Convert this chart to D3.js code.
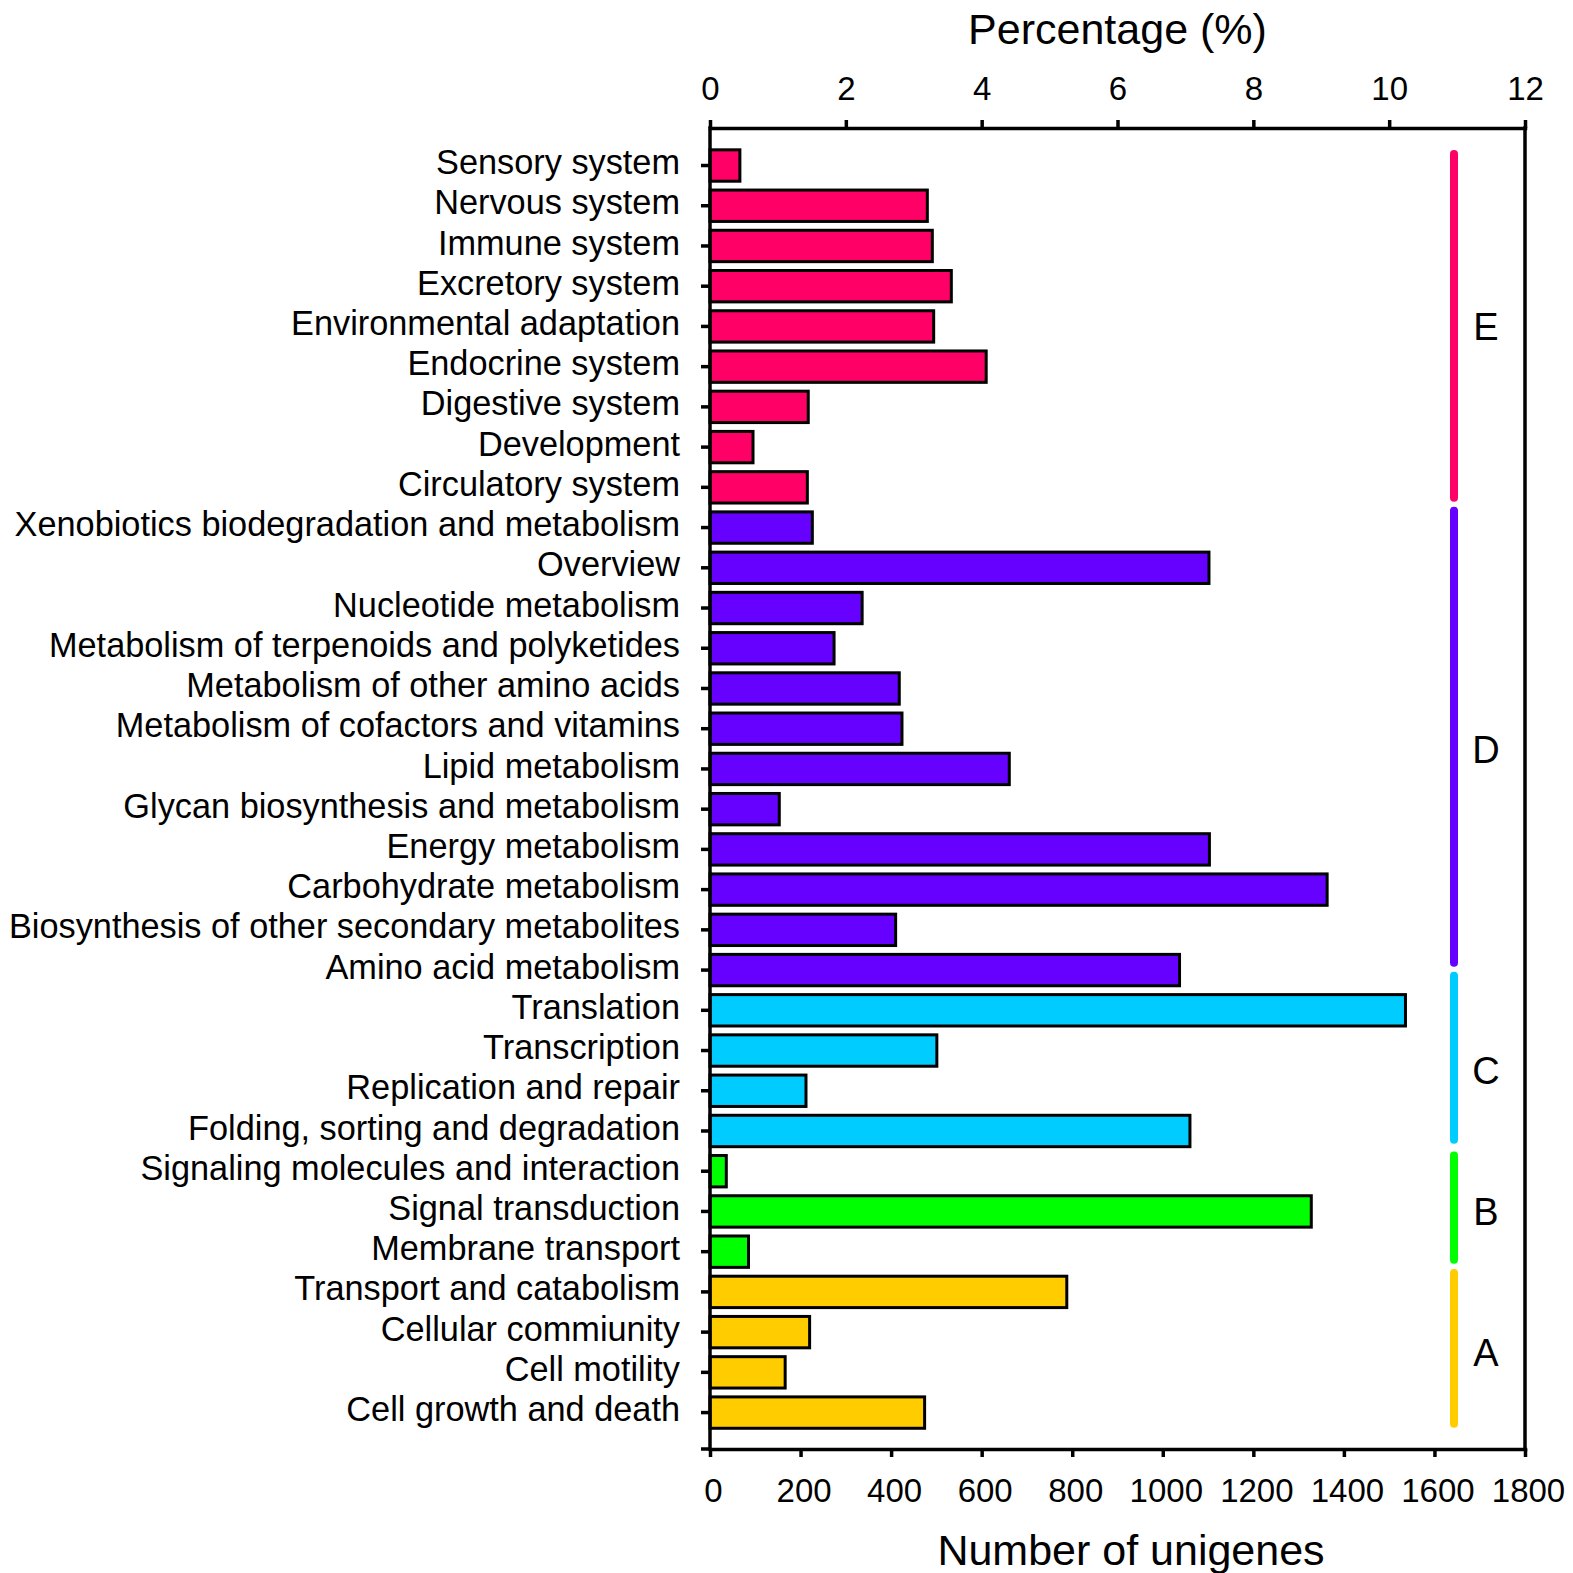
<!DOCTYPE html>
<html>
<head>
<meta charset="utf-8">
<script src="https://cdn.jsdelivr.net/npm/d3@7"></script>
<style>
  html, body { margin: 0; padding: 0; background: #fff; }
  svg { display: block; font-family: "Liberation Sans", Arial, Helvetica, sans-serif; }
</style>
</head>
<body>
<svg id="chart" width="1573" height="1573"></svg>
<script>
// KEGG pathway classes, listed top to bottom
const categories = [
  "Sensory system", "Nervous system", "Immune system", "Excretory system",
  "Environmental adaptation", "Endocrine system", "Digestive system",
  "Development", "Circulatory system",
  "Xenobiotics biodegradation and metabolism", "Overview", "Nucleotide metabolism",
  "Metabolism of terpenoids and polyketides", "Metabolism of other amino acids",
  "Metabolism of cofactors and vitamins", "Lipid metabolism",
  "Glycan biosynthesis and metabolism", "Energy metabolism",
  "Carbohydrate metabolism", "Biosynthesis of other secondary metabolites",
  "Amino acid metabolism",
  "Translation", "Transcription", "Replication and repair",
  "Folding, sorting and degradation",
  "Signaling molecules and interaction", "Signal transduction", "Membrane transport",
  "Transport and catabolism", "Cellular commiunity", "Cell motility",
  "Cell growth and death"
];

// Number of unigenes per class
const unigenes = [
  66, 480, 491, 533, 494, 610, 217, 95, 215,
  226, 1102, 336, 274, 418, 424, 661, 153, 1103, 1363, 410, 1037,
  1536, 501, 212, 1060,
  36, 1328, 85,
  788, 220, 166, 474
];

// Top-level group of each class
const groupOf = [
  "E", "E", "E", "E", "E", "E", "E", "E", "E",
  "D", "D", "D", "D", "D", "D", "D", "D", "D", "D", "D", "D",
  "C", "C", "C", "C",
  "B", "B", "B",
  "A", "A", "A", "A"
];

const groupNames = ["E", "D", "C", "B", "A"];
const groupColors = ["#FF0066", "#6600FF", "#00CCFF", "#00FF00", "#FFCC00"];
// Extent of each group bracket, in row units (row 0 = first class)
const bracketStart = [-0.385, 8.48, 20.04, 24.51, 27.43];
const bracketEnd   = [8.36, 19.92, 24.32, 27.30, 31.38];

const countTicks = [0, 200, 400, 600, 800, 1000, 1200, 1400, 1600, 1800];
const percentTicks = [0, 2, 4, 6, 8, 10, 12];

// ---- layout ----
const plotLeft = 710, plotRight = 1525, plotTop = 128, plotBottom = 1449;
const axisWidth = 3.5;

const svg = d3.select("#chart");

const x = d3.scaleLinear().domain([0, 1800]).range([plotLeft, plotRight]);
const xPct = d3.scaleLinear().domain([0, 12]).range([plotLeft, plotRight]);
const y = d3.scaleBand()
  .domain(categories)
  .range([plotTop + 17.4, plotBottom - 16.3])
  .paddingInner(0.22)
  .paddingOuter(0.11);

const rowY = r => y(categories[0]) + y.bandwidth() / 2 + r * y.step();
const colorOf = g => groupColors[groupNames.indexOf(g)];

// ---- bars ----
const rows = categories.map((c, i) => ({ name: c, value: unigenes[i], group: groupOf[i] }));

svg.append("g")
  .selectAll("rect")
  .data(rows)
  .join("rect")
  .attr("x", x(0))
  .attr("y", d => y(d.name))
  .attr("width", d => x(d.value) - x(0))
  .attr("height", y.bandwidth())
  .attr("fill", d => colorOf(d.group))
  .attr("stroke", "#000")
  .attr("stroke-width", 3);

// ---- group brackets ----
const capR = 4;
const brackets = svg.append("g");
groupNames.forEach((g, i) => {
  brackets.append("line")
    .attr("x1", 1454).attr("x2", 1454)
    .attr("y1", rowY(bracketStart[i]) + capR)
    .attr("y2", rowY(bracketEnd[i]) - capR)
    .attr("stroke", groupColors[i])
    .attr("stroke-width", 8)
    .attr("stroke-linecap", "round");
  const idx = groupOf.map((d, k) => d === g ? k : -1).filter(k => k >= 0);
  const mid = (d3.min(idx) + d3.max(idx)) / 2;
  brackets.append("text")
    .attr("x", 1486)
    .attr("y", rowY(mid))
    .attr("dy", "0.36em")
    .attr("text-anchor", "middle")
    .attr("font-size", 38)
    .attr("fill", "#000")
    .text(g);
});

// ---- axes ----
const styleAxis = sel => {
  sel.selectAll("path.domain").attr("stroke-width", axisWidth).attr("stroke-linecap", "square");
  sel.selectAll(".tick line").attr("stroke-width", axisWidth);
  sel.selectAll(".tick text").attr("font-size", 33).attr("fill", "#000");
  sel.attr("font-family", null).attr("font-size", null);
};

svg.append("g")
  .attr("transform", `translate(0,${plotBottom})`)
  .call(d3.axisBottom(x).tickValues(countTicks).tickFormat(d3.format("d"))
    .tickSize(8).tickSizeOuter(0).tickPadding(22))
  .call(styleAxis)
  .call(g => g.selectAll(".tick text").attr("dx", 3));

svg.append("g")
  .attr("transform", `translate(0,${plotTop})`)
  .call(d3.axisTop(xPct).tickValues(percentTicks).tickFormat(d3.format("d"))
    .tickSize(8).tickSizeOuter(0).tickPadding(20))
  .call(styleAxis);

const yAxis = svg.append("g")
  .attr("transform", `translate(${plotLeft},0)`)
  .call(d3.axisLeft(y).tickSize(9).tickPadding(21))
  .call(g => g.select("path.domain").remove())
  .attr("font-family", null);
yAxis.selectAll(".tick line").attr("stroke-width", axisWidth);
yAxis.selectAll(".tick text")
  .attr("font-size", 34.3)
  .attr("fill", "#000")
  .attr("dy", "0.25em");

// frame: left and right edges, plus the outer tick at the bottom-left corner
const frame = svg.append("g").attr("stroke", "#000").attr("stroke-width", axisWidth);
frame.append("line").attr("x1", plotLeft).attr("x2", plotLeft).attr("y1", plotTop).attr("y2", plotBottom)
  .attr("stroke-linecap", "square");
frame.append("line").attr("x1", plotRight).attr("x2", plotRight).attr("y1", plotTop).attr("y2", plotBottom)
  .attr("stroke-linecap", "square");
frame.append("line").attr("x1", plotLeft - 9).attr("x2", plotLeft).attr("y1", plotBottom).attr("y2", plotBottom);

// ---- axis titles ----
svg.append("text")
  .attr("x", (plotLeft + plotRight) / 2)
  .attr("y", 44)
  .attr("text-anchor", "middle")
  .attr("font-size", 43)
  .text("Percentage (%)");

svg.append("text")
  .attr("x", 1131)
  .attr("y", 1565)
  .attr("text-anchor", "middle")
  .attr("font-size", 43)
  .text("Number of unigenes");
</script>
</body>
</html>
